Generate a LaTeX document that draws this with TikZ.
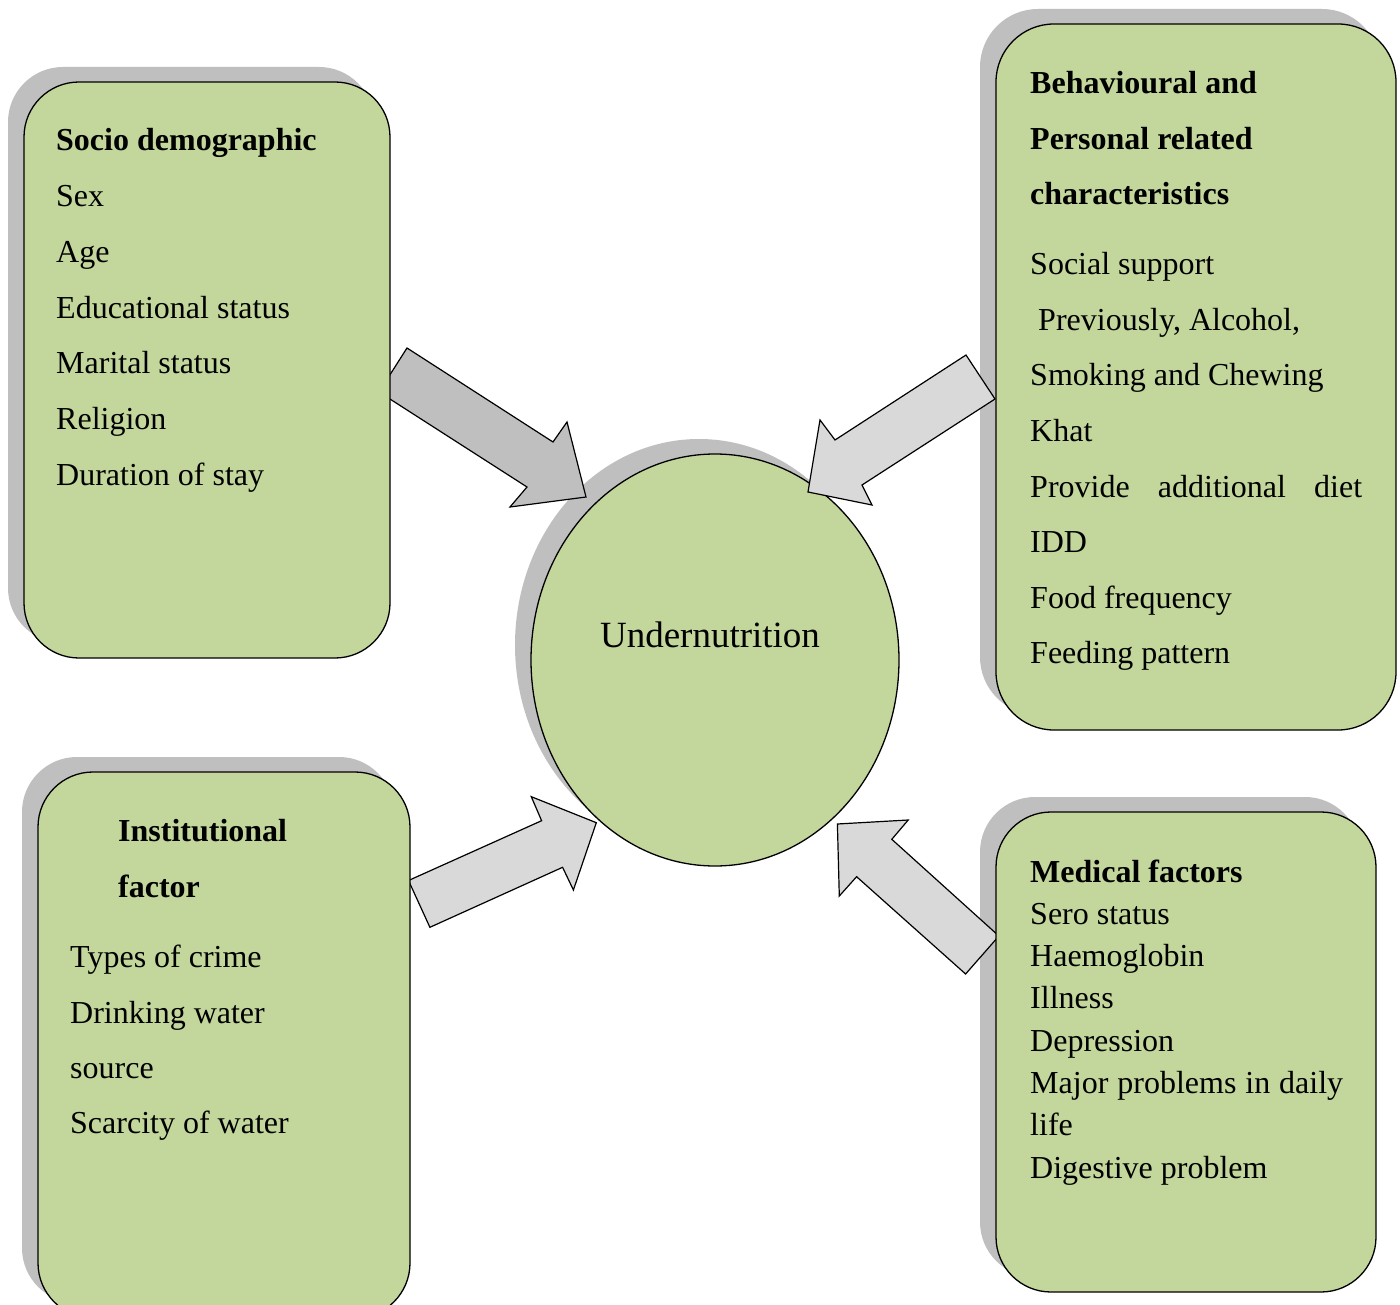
\documentclass[tikz,border=0pt]{standalone}
\usepackage{fontspec}
\setmainfont{Liberation Serif}
\usetikzlibrary{shapes.geometric}
\definecolor{boxgreen}{HTML}{C3D69B}
\definecolor{shadowgray}{HTML}{BFBFBF}
\definecolor{arrowlight}{HTML}{D9D9D9}
\begin{document}
\begin{tikzpicture}[x=1pt,y=-1pt,
  factor/.style={draw=black, line width=1.3pt, fill=boxgreen, rounded corners=55pt},
  shadowbox/.style={fill=shadowgray, rounded corners=55pt},
  blockarrow/.style={draw=black, line width=1.2pt, line join=miter},
  txt/.style={anchor=base west, inner sep=0pt, font=\fontsize{32}{38}\selectfont},
  hd/.style={anchor=base west, inner sep=0pt, font=\fontsize{32}{38}\selectfont\bfseries}]

\fill[white] (0,0) rectangle (1400,1305);
\useasboundingbox (0,0) rectangle (1400,1305);

% shadows
\fill[shadowgray, rounded corners=55pt] (8,67) rectangle (374,643);
\fill[shadowgray, rounded corners=58pt] (980,9) rectangle (1380,715);
\fill[shadowgray, rounded corners=55pt] (22,757) rectangle (394,1303);
\fill[shadowgray, rounded corners=55pt] (980,797) rectangle (1360,1277);
\fill[shadowgray] (699,645) ellipse [x radius=184, y radius=206];

% central ellipse
\node[ellipse, draw=black, line width=1.3pt, fill=boxgreen, minimum width=368pt, minimum height=412pt, inner sep=0pt] (under) at (715,660) {};
\node[anchor=base, inner sep=0pt, font=\fontsize{37}{44}\selectfont] (undertxt) at (710,647) {Undernutrition};

% block arrows
\draw[blockarrow, fill=shadowgray] (407,348) -- (553,442) -- (567,422) -- (586,497) -- (510,507) -- (527,487) -- (379,392) -- cycle;
\draw[blockarrow, fill=arrowlight] (966,355) -- (835,440) -- (820,420) -- (808,492) -- (872,505) -- (862,485) -- (995,399) -- cycle;
\draw[blockarrow, fill=arrowlight] (408.5,880.5) -- (541.6,820.7) -- (531.3,796.7) -- (596.3,822.7) -- (573.4,890) -- (562.6,867.3) -- (429.9,927.3) -- cycle;
\draw[blockarrow, fill=arrowlight] (998.9,936) -- (891.8,839.3) -- (908.2,820) -- (837.4,824) -- (839.3,896) -- (856.6,876.7) -- (965.6,974) -- cycle;

% boxes
\draw[factor] (24,82) rectangle (390,658);
\draw[factor, rounded corners=58pt] (996,24) rectangle (1396,730);
\draw[factor] (38,772) rectangle (410,1318);
\draw[factor] (996,812) rectangle (1376,1292);

% box 1 text
\node[hd]  (sd0) at (56,151) {Socio demographic};
\node[txt] (sd1) at (56,206.7) {Sex};
\node[txt] (sd2) at (56,262.4) {Age};
\node[txt] (sd3) at (56,318.1) {Educational status};
\node[txt] (sd4) at (56,373.8) {Marital status};
\node[txt] (sd5) at (56,429.5) {Religion};
\node[txt] (sd6) at (56,485.2) {Duration of stay};

% box 2 text
\node[hd]  (bp0) at (1030,94) {Behavioural and};
\node[hd]  (bp1) at (1030,149.5) {Personal related};
\node[hd]  (bp2) at (1030,205) {characteristics};
\node[txt] (bp3) at (1030,275) {Social support};
\node[txt] (bp4) at (1030,330.5) {\hspace{8pt}Previously, Alcohol,};
\node[txt] (bp5) at (1030,386) {Smoking and Chewing};
\node[txt] (bp6) at (1030,441.5) {Khat};
\node[txt] (bp7) at (1030,497) {\makebox[332pt][s]{Provide additional diet}};
\node[txt] (bp8) at (1030,552.5) {IDD};
\node[txt] (bp9) at (1030,608) {Food frequency};
\node[txt] (bp10) at (1030,663.5) {Feeding pattern};

% box 3 text
\node[hd]  (in0) at (118,841) {Institutional};
\node[hd]  (in1) at (118,897) {factor};
\node[txt] (in2) at (70,967) {Types of crime};
\node[txt] (in3) at (70,1023) {Drinking water};
\node[txt] (in4) at (70,1078) {source};
\node[txt] (in5) at (70,1133) {Scarcity of water};

% box 4 text
\node[hd]  (md0) at (1030,882) {Medical factors};
\node[txt] (md1) at (1030,924) {Sero status};
\node[txt] (md2) at (1030,966) {Haemoglobin};
\node[txt] (md3) at (1030,1008) {Illness};
\node[txt] (md4) at (1030,1051) {Depression};
\node[txt] (md5) at (1030,1093) {\makebox[313pt][s]{Major problems in daily}};
\node[txt] (md6) at (1030,1135) {life};
\node[txt] (md7) at (1030,1178) {Digestive problem};
\end{tikzpicture}
\end{document}
